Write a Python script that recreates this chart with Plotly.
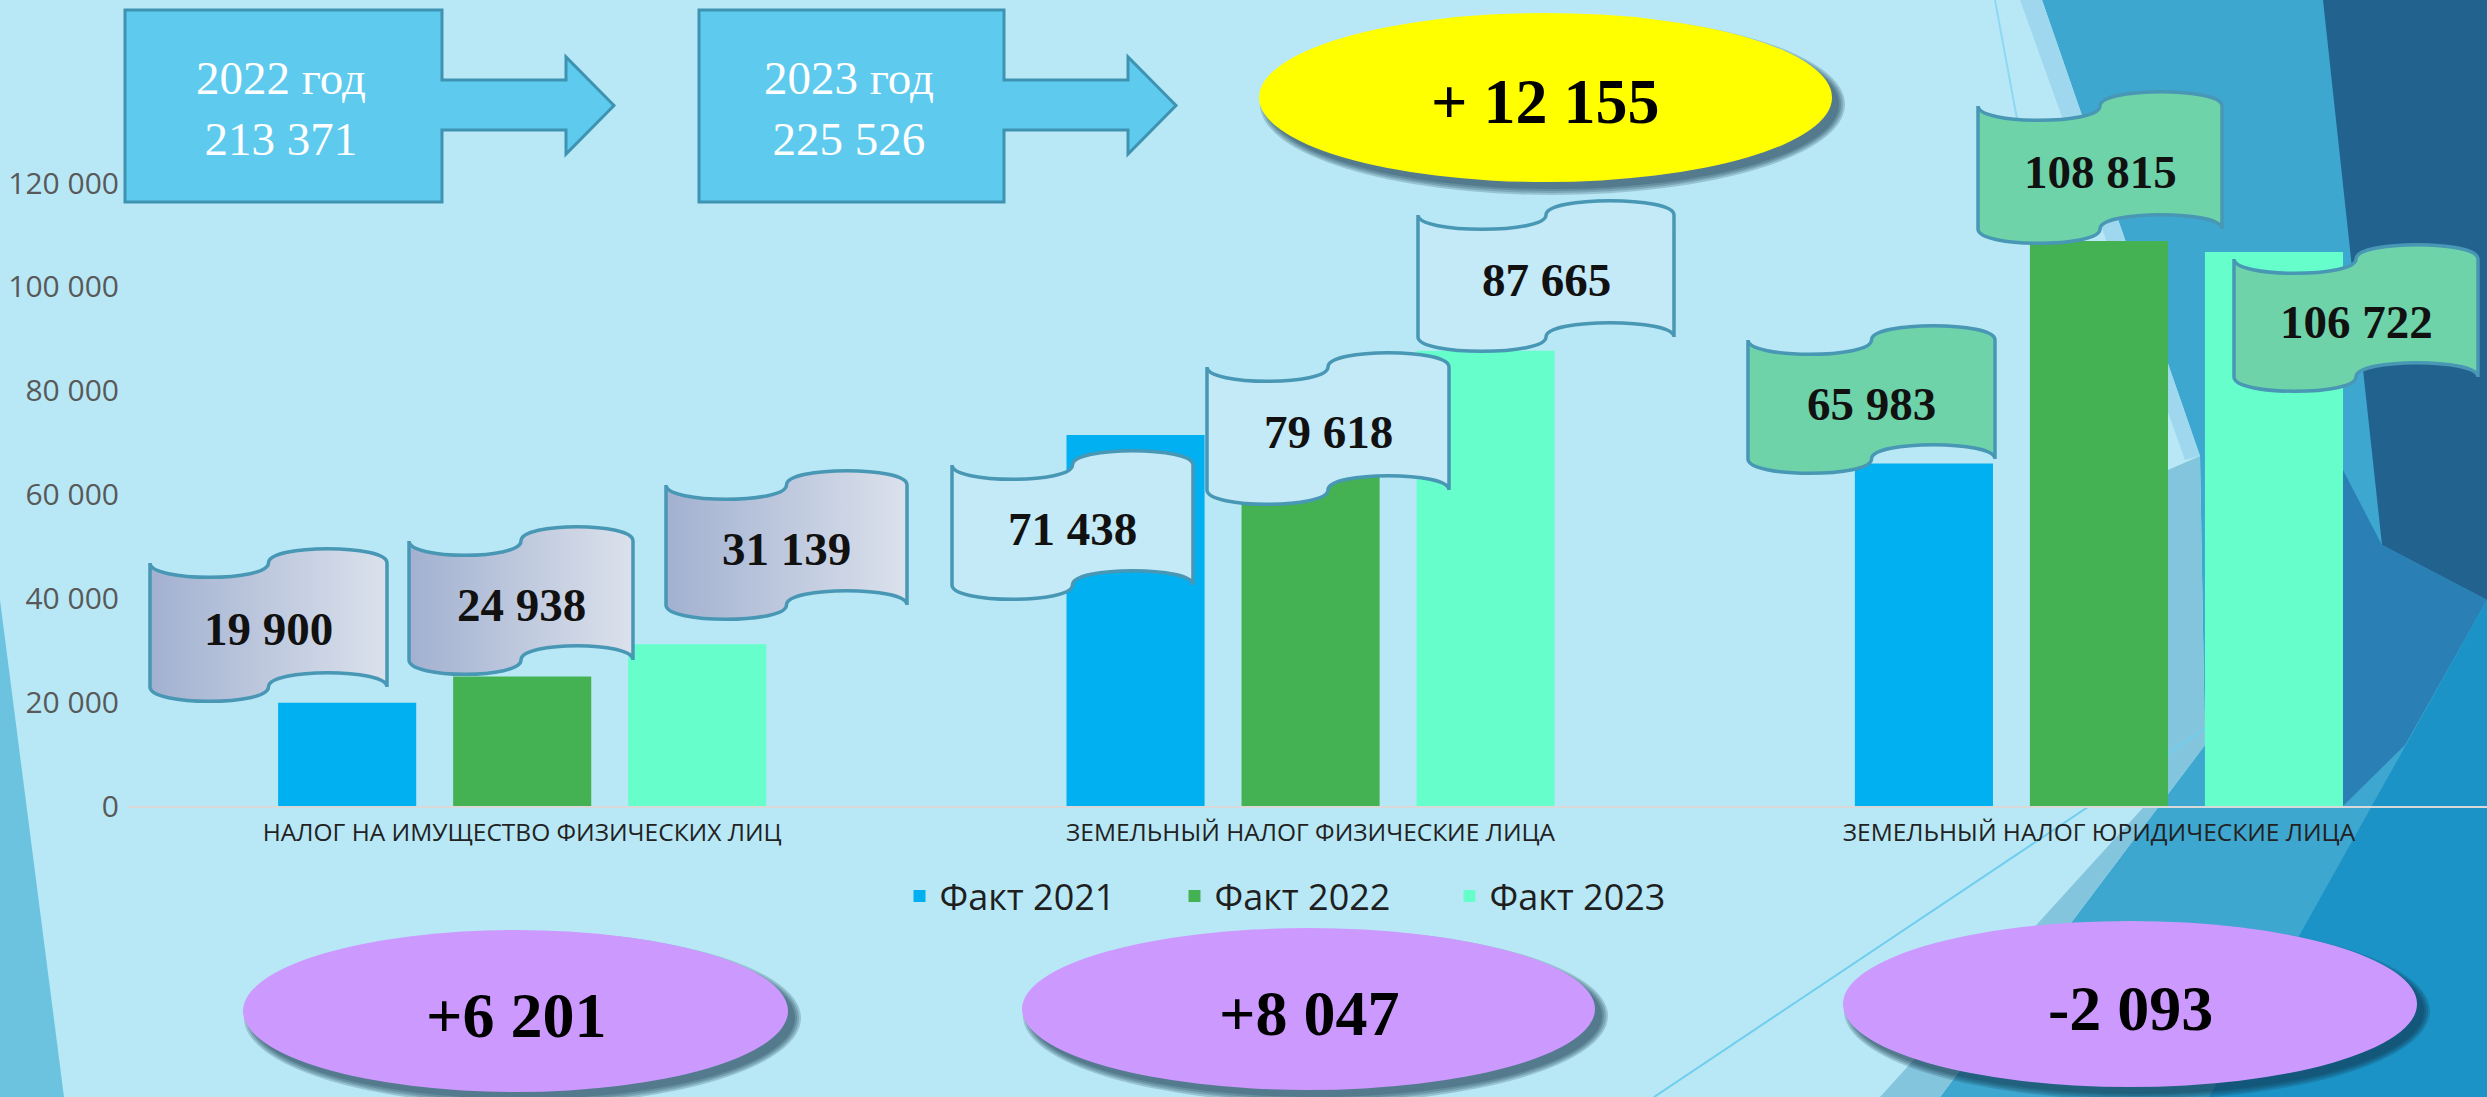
import plotly.graph_objects as go

# ---------------- data ----------------
categories = [
    "НАЛОГ НА ИМУЩЕСТВО ФИЗИЧЕСКИХ ЛИЦ",
    "ЗЕМЕЛЬНЫЙ НАЛОГ ФИЗИЧЕСКИЕ ЛИЦА",
    "ЗЕМЕЛЬНЫЙ НАЛОГ ЮРИДИЧЕСКИЕ ЛИЦА",
]
series_names = ["Факт 2021", "Факт 2022", "Факт 2023"]
fact_2021 = [19900, 71438, 65983]
fact_2022 = [24938, 79618, 108815]
fact_2023 = [31139, 87665, 106722]
y_ticks = [0, 20000, 40000, 60000, 80000, 100000, 120000]
total_years = ["2022", "2023"]

# ---------------- styles / layout geometry (pixels) ----------------
W, H = 2487, 1097
BG = "#b8e8f6"
bar_colors = ["#00b0f0", "#44b153", "#66ffcc"]


def fmt(v):
    return f"{abs(v):,}".replace(",", " ")


def px(x):
    return x / W


def py(y):
    return 1 - y / H


series = [fact_2021, fact_2022, fact_2023]

fig = go.Figure()
for name, vals, col in zip(series_names, series, bar_colors):
    fig.add_trace(go.Bar(x=categories, y=vals, name=name, marker_color=col,
                         marker_line_width=0))

shapes = []
annotations = []

# ---- background decoration (Facet-like) ----
def poly(pts, color, opacity=1.0, layer="below"):
    d = "M " + " L ".join(f"{px(x):.5f},{py(y):.5f}" for x, y in pts) + " Z"
    shapes.append(dict(type="path", xref="paper", yref="paper", path=d,
                       fillcolor=color, line=dict(width=0), opacity=opacity,
                       layer=layer))


def seg(p0, p1, color, width):
    shapes.append(dict(type="line", xref="paper", yref="paper",
                       x0=px(p0[0]), y0=py(p0[1]), x1=px(p1[0]), y1=py(p1[1]),
                       line=dict(color=color, width=width), layer="below"))


poly([(0, 600), (64, 1097), (0, 1097)], "#6cc3df")
poly([(2042, 0), (2487, 0), (2487, 1097), (1940, 1097), (2205, 745), (2200, 456)], "#3ea7d0")
poly([(2168, 470), (2200, 456), (2205, 745), (1940, 1097), (1880, 1097), (2150, 800)], "#84c5de")
poly([(2020, 0), (2042, 0), (2200, 456), (2185, 460)], "#9fd8ee")
poly([(2323, 0), (2487, 0), (2487, 600), (2382, 545)], "#22628f")
poly([(2343, 470), (2382, 545), (2487, 600), (2405, 745), (2343, 806)], "#2a7fb5")
poly([(2487, 600), (2487, 1097), (2209, 1097)], "#1c93c7")
seg((1654, 1097), (2230, 712), "#6fcdee", 2)
seg((1995, 0), (2032, 200), "#8fd8f2", 2)

# ---- total boxes with arrows ----
def arrow_box(x0, x1, y0, y1, xs, xt, ys0, ys1, yh0, yh1):
    ym = (yh0 + yh1) / 2
    pts = [(x0, y0), (x1, y0), (x1, ys0), (xs, ys0), (xs, yh0), (xt, ym),
           (xs, yh1), (xs, ys1), (x1, ys1), (x1, y1), (x0, y1)]
    d = "M " + " L ".join(f"{px(x):.5f},{py(y):.5f}" for x, y in pts) + " Z"
    shapes.append(dict(type="path", xref="paper", yref="paper", path=d,
                       fillcolor="#5ecbee", line=dict(color="#3f93b2", width=3),
                       layer="above"))


totals = [sum(s[i] for i in range(len(categories))) for s in (fact_2022, fact_2023)]
boxes = [(125, 442), (699, 1004)]
for (bx0, bx1), yr, tot in zip(boxes, total_years, totals):
    arrow_box(bx0, bx1, 10, 202, bx1 + 124, bx1 + 172, 80, 130, 57, 154)
    annotations.append(dict(xref="paper", yref="paper", x=px((bx0 + bx1) / 2 - 3), y=py(109),
                            text=f"{yr} год<br>{fmt(tot)}", showarrow=False,
                            font=dict(family="Liberation Serif", size=47, color="white"),
                            xanchor="center", yanchor="middle", align="center"))

# ---- ellipses with soft shadow ----
def ellipse(x0, x1, y0, y1, color, text):
    off = 7
    for g in (6, 4, 2, 0):
        shapes.append(dict(type="circle", xref="paper", yref="paper",
                           x0=px(x0 + off - g), x1=px(x1 + off + g),
                           y0=py(y0 + off - g), y1=py(y1 + off + g),
                           fillcolor="#0d3446", opacity=0.2, line=dict(width=0),
                           layer="above"))
    shapes.append(dict(type="circle", xref="paper", yref="paper",
                       x0=px(x0), x1=px(x1), y0=py(y0), y1=py(y1),
                       fillcolor=color, line=dict(width=0), layer="above"))
    annotations.append(dict(xref="paper", yref="paper", x=px((x0 + x1) / 2),
                            y=py((y0 + y1) / 2 + 4), text=f"<b>{text}</b>",
                            showarrow=False, xanchor="center", yanchor="middle",
                            font=dict(family="Liberation Serif", size=64, color="black")))


def signed(v):
    return ("+" if v >= 0 else "-") + fmt(v)


total_diff = totals[1] - totals[0]
ellipse(1259, 1832, 13, 182, "#ffff00", "+ " + fmt(total_diff))
diffs = [fact_2023[i] - fact_2022[i] for i in range(len(categories))]
ell_pos = [(243, 788, 930, 1092), (1022, 1595, 928, 1090), (1843, 2417, 921, 1087)]
for (ex0, ex1, ey0, ey1), dv in zip(ell_pos, diffs):
    ellipse(ex0, ex1, ey0, ey1, "#cc99ff", signed(dv))

# ---- scroll-shaped value callouts ----
def bez(p0, p1, p2, p3, n=20):
    out = []
    for i in range(n + 1):
        t = i / n
        a, b, c, d = (1 - t) ** 3, 3 * (1 - t) ** 2 * t, 3 * (1 - t) * t ** 2, t ** 3
        out.append((a * p0[0] + b * p1[0] + c * p2[0] + d * p3[0],
                    a * p0[1] + b * p1[1] + c * p2[1] + d * p3[1]))
    return out


def scroll(x0, x1, yt, yb, fill, text, k=19, gradient=None):
    xm = (x0 + x1) / 2
    P = lambda x, y: f"{px(x):.5f},{py(y):.5f}"
    d = (f"M {P(x0, yt)} C {P(x0, yt + k)} {P(xm, yt + k)} {P(xm, yt)} "
         f"C {P(xm, yt - k)} {P(x1, yt - k)} {P(x1, yt)} L {P(x1, yb)} "
         f"C {P(x1, yb - k)} {P(xm, yb - k)} {P(xm, yb)} "
         f"C {P(xm, yb + k)} {P(x0, yb + k)} {P(x0, yb)} Z")
    if gradient is not None:
        pts = (bez((x0, yt), (x0, yt + k), (xm, yt + k), (xm, yt))
               + bez((xm, yt), (xm, yt - k), (x1, yt - k), (x1, yt))
               + bez((x1, yb), (x1, yb - k), (xm, yb - k), (xm, yb))
               + bez((xm, yb), (xm, yb + k), (x0, yb + k), (x0, yb)))
        pts.append(pts[0])
        fig.add_trace(go.Scatter(
            x=[p[0] for p in pts], y=[p[1] for p in pts], xaxis="x2", yaxis="y2",
            mode="lines", line=dict(width=0, color="rgba(0,0,0,0)"), fill="toself",
            fillgradient=dict(type="horizontal", colorscale=gradient),
            showlegend=False, hoverinfo="skip"))
        fill = "rgba(0,0,0,0)"
    shapes.append(dict(type="path", xref="paper", yref="paper", path=d,
                       fillcolor=fill, line=dict(color="#4897b4", width=3.5),
                       layer="above"))
    annotations.append(dict(xref="paper", yref="paper", x=px(xm), y=py((yt + yb) / 2 + 4),
                            text=f"<b>{text}</b>", showarrow=False,
                            xanchor="center", yanchor="middle",
                            font=dict(family="Liberation Serif", size=47, color="#111111")))


scroll_fills = ["#bcc5dc", "#c4e9f7", "#6fd3aa"]
scroll_gradients = [[[0, "#a2b1d0"], [1, "#dbe1ec"]], None, None]
callout_boxes = [
    [(150, 387, 563, 687), (409, 633, 541, 660), (666, 907, 485, 605)],
    [(952, 1193, 465, 585), (1207, 1449, 367, 490), (1418, 1674, 215, 337)],
    [(1748, 1995, 340, 459), (1978, 2222, 106, 229), (2234, 2478, 259, 377)],
]
for ci in range(len(categories)):
    for si, s in enumerate(series):
        bx = callout_boxes[ci][si]
        scroll(*bx, scroll_fills[ci], fmt(s[ci]), gradient=scroll_gradients[ci])

fig.update_layout(
    width=W, height=H, autosize=False,
    margin=dict(l=0, r=0, t=0, b=0, pad=0, autoexpand=False),
    paper_bgcolor=BG, plot_bgcolor="rgba(0,0,0,0)",
    barmode="group", bargap=0.334, bargroupgap=0.211,
    shapes=shapes, annotations=annotations,
    showlegend=True,
    legend=dict(orientation="h", x=px(1312), xanchor="center", y=py(896), yanchor="middle",
                font=dict(family="Open Sans", size=36, color="#1f1f1f"),
                bgcolor="rgba(0,0,0,0)", entrywidth=230, traceorder="normal"),
    xaxis=dict(domain=[px(128), 1], range=[-0.5, 2.4922], showgrid=False, zeroline=False,
               showline=True, linecolor="#d9d9d9", linewidth=2, ticks="",
               tickfont=dict(family="Open Sans", size=24.5, color="#222222"),
               ticklabelstandoff=4, automargin=False),
    yaxis=dict(domain=[py(806), py(27.25)], range=[0, 150000], showgrid=False,
               zeroline=False, showline=False, tickvals=y_ticks,
               ticktext=[fmt(v) for v in y_ticks], ticks="",
               tickfont=dict(family="Open Sans", size=30, color="#595959"),
               ticklabelstandoff=8, automargin=False),
    xaxis2=dict(domain=[0, 1], range=[0, W], visible=False, anchor="y2",
                fixedrange=True, automargin=False),
    yaxis2=dict(domain=[0, 1], range=[H, 0], visible=False, anchor="x2",
                fixedrange=True, automargin=False),
)

fig.write_html(
    "out.html",
    config={"responsive": False, "displayModeBar": False},
    post_script="document.body.style.margin='0';document.body.style.overflow='hidden';",
)
